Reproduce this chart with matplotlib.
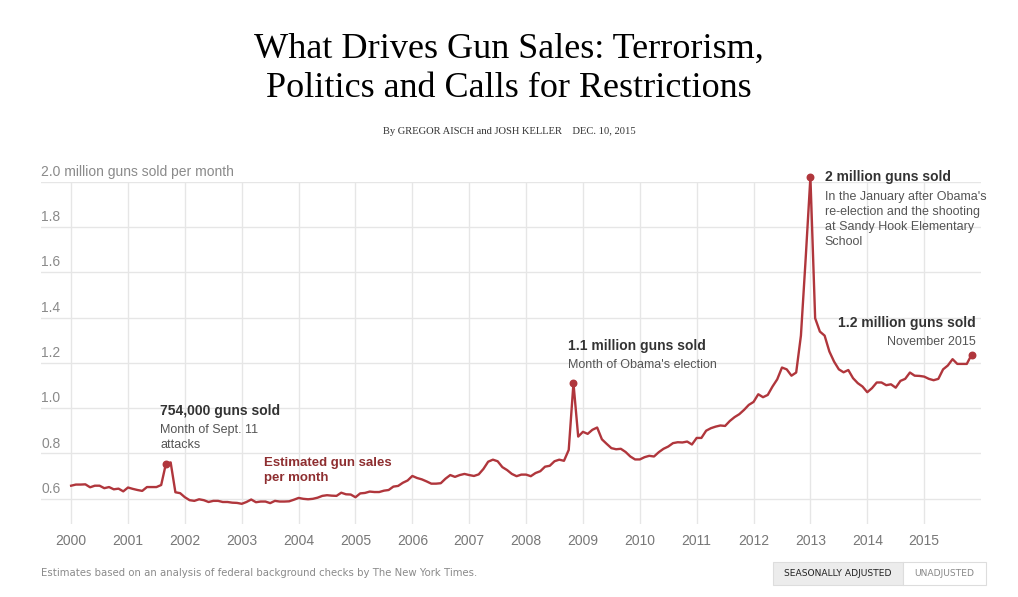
import matplotlib
matplotlib.use('Agg')
import matplotlib.pyplot as plt
from matplotlib.patches import Rectangle
import numpy as np

# monthly estimates, million guns sold (seasonally adjusted), Jan 2000 - Nov 2015
sales_2000 = [0.657, 0.662, 0.662, 0.663, 0.650, 0.657, 0.657, 0.646, 0.651, 0.641, 0.644, 0.632]
sales_2001 = [0.649, 0.643, 0.638, 0.634, 0.651, 0.651, 0.651, 0.660, 0.754, 0.760, 0.628, 0.624]
sales_2002 = [0.606, 0.593, 0.590, 0.597, 0.593, 0.585, 0.590, 0.590, 0.585, 0.585, 0.582, 0.581]
sales_2003 = [0.577, 0.585, 0.596, 0.584, 0.587, 0.587, 0.580, 0.590, 0.587, 0.587, 0.588, 0.595]
sales_2004 = [0.603, 0.599, 0.597, 0.599, 0.604, 0.612, 0.615, 0.613, 0.612, 0.626, 0.619, 0.618]
sales_2005 = [0.606, 0.623, 0.625, 0.631, 0.629, 0.629, 0.635, 0.638, 0.653, 0.656, 0.670, 0.680]
sales_2006 = [0.700, 0.691, 0.685, 0.676, 0.666, 0.666, 0.668, 0.688, 0.704, 0.696, 0.704, 0.709]
sales_2007 = [0.704, 0.700, 0.707, 0.731, 0.763, 0.772, 0.765, 0.739, 0.726, 0.709, 0.699, 0.706]
sales_2008 = [0.706, 0.699, 0.713, 0.721, 0.741, 0.745, 0.765, 0.772, 0.767, 0.815, 1.110, 0.874]
sales_2009 = [0.895, 0.886, 0.904, 0.914, 0.862, 0.842, 0.823, 0.818, 0.820, 0.806, 0.786, 0.773]
sales_2010 = [0.773, 0.783, 0.789, 0.786, 0.805, 0.820, 0.830, 0.845, 0.849, 0.848, 0.852, 0.839]
sales_2011 = [0.868, 0.868, 0.900, 0.911, 0.918, 0.923, 0.921, 0.943, 0.960, 0.973, 0.992, 1.014]
sales_2012 = [1.027, 1.061, 1.048, 1.058, 1.095, 1.127, 1.179, 1.171, 1.143, 1.157, 1.320, 1.660]
sales_2013 = [2.020, 1.397, 1.338, 1.320, 1.250, 1.205, 1.171, 1.158, 1.168, 1.132, 1.110, 1.095]
sales_2014 = [1.070, 1.088, 1.113, 1.113, 1.101, 1.105, 1.090, 1.120, 1.129, 1.157, 1.143, 1.142]
sales_2015 = [1.139, 1.129, 1.123, 1.129, 1.171, 1.188, 1.216, 1.195, 1.195, 1.195, 1.235]

sales = np.array(sales_2000 + sales_2001 + sales_2002 + sales_2003 + sales_2004 +
                 sales_2005 + sales_2006 + sales_2007 + sales_2008 + sales_2009 +
                 sales_2010 + sales_2011 + sales_2012 + sales_2013 + sales_2014 +
                 sales_2015)
months = 2000 + np.arange(len(sales)) / 12.0

years = list(range(2000, 2016))
yticks = [0.6, 0.8, 1.0, 1.2, 1.4, 1.6, 1.8, 2.0]
ytick_labels = ['0.6', '0.8', '1.0', '1.2', '1.4', '1.6', '1.8', '2.0 million guns sold per month']

# highlighted months: index into series
highlights = [20, 106, 156, 190]

linecolor = '#b0363c'
gridcolor = '#e6e6e6'
sans = ['Liberation Sans', 'DejaVu Sans']
serif = ['Liberation Serif', 'DejaVu Serif']
narrow = ['Liberation Sans Narrow', 'DejaVu Sans']

fig = plt.figure(figsize=(10.18, 5.97), dpi=100)
W, H = 1018.0, 597.0
ax = fig.add_axes([41 / W, 1 - 523.5 / H, 940 / W, (523.5 - 181.7) / H])
ax.set_xlim(1999.47, 2016.0)
ax.set_ylim(0.49, 2.0)

for s in ax.spines.values():
    s.set_visible(False)
ax.tick_params(left=False, bottom=False, labelleft=False, labelbottom=False)

for v in yticks:
    ax.axhline(v, color=gridcolor, lw=1, zorder=0)
for yr in years:
    ax.axvline(yr, color=gridcolor, lw=1, zorder=0)

# y labels sit just above their gridlines, left aligned
for v, lab in zip(yticks, ytick_labels):
    ax.annotate(lab, xy=(0, v), xycoords=('axes fraction', 'data'),
                xytext=(0, 2), textcoords='offset points', ha='left', va='bottom',
                fontsize=10, color='#8a8a8a', family=sans)
for yr in years:
    ax.annotate(str(yr), xy=(yr, 0), xycoords=('data', 'axes fraction'),
                xytext=(0, -7.5), textcoords='offset points', ha='center', va='top',
                fontsize=10, color='#777777', family=sans)

ax.plot(months, sales, color=linecolor, lw=1.7, clip_on=False, zorder=3,
        solid_joinstyle='round')
ax.scatter(months[highlights], sales[highlights], s=22, color=linecolor,
           zorder=4, clip_on=False)

dark = '#333333'
mid = '#555555'
# Sept. 11
ax.text(2001.57, 0.988, '754,000 guns sold', fontsize=10, fontweight='bold',
        color=dark, family=sans, va='center')
ax.text(2001.57, 0.869, 'Month of Sept. 11\nattacks', fontsize=9, color=mid,
        family=sans, va='center', linespacing=1.3)
# series label
ax.text(2003.4, 0.725, 'Estimated gun sales\nper month', fontsize=9.5,
        fontweight='bold', color='#8e2e30', family=sans, va='center',
        linespacing=1.3)
# 2008 election
ax.text(2008.74, 1.275, '1.1 million guns sold', fontsize=10, fontweight='bold',
        color=dark, family=sans, va='center')
ax.text(2008.74, 1.191, "Month of Obama's election", fontsize=9, color=mid,
        family=sans, va='center')
# Sandy Hook
ax.text(2013.25, 2.021, '2 million guns sold', fontsize=10, fontweight='bold',
        color=dark, family=sans, va='center')
ax.text(2013.25, 1.833, "In the January after Obama's\nre-election and the shooting\n"
        "at Sandy Hook Elementary\nSchool", fontsize=9, color=mid, family=sans,
        va='center', linespacing=1.35)
# Nov 2015
ax.text(2015.9, 1.377, '1.2 million guns sold', fontsize=10, fontweight='bold',
        color=dark, family=sans, va='center', ha='right')
ax.text(2015.9, 1.292, 'November 2015', fontsize=9, color=mid, family=sans,
        va='center', ha='right')

# title and byline
fig.text(0.5, 1 - 58 / H, 'What Drives Gun Sales: Terrorism,', ha='center',
         va='baseline', fontsize=26, family=serif, color='#000000')
fig.text(0.5, 1 - 97 / H, 'Politics and Calls for Restrictions', ha='center',
         va='baseline', fontsize=26, family=serif, color='#000000')
fig.text(0.5, 1 - 134 / H, 'By GREGOR AISCH and JOSH KELLER    DEC. 10, 2015',
         ha='center', va='baseline', fontsize=7.6, family=serif, color='#333333')

# footer note
fig.text(41 / W, 1 - 573 / H, 'Estimates based on an analysis of federal background '
         'checks by The New York Times.', ha='left', va='center', fontsize=7.3,
         color='#8a8a8a', family=narrow)

# toggle buttons
fig.patches.append(Rectangle((773 / W, 1 - 585 / H), 130 / W, 23 / H,
                             transform=fig.transFigure, facecolor='#ececec',
                             edgecolor='#dddddd', lw=0.8))
fig.patches.append(Rectangle((903 / W, 1 - 585 / H), 83 / W, 23 / H,
                             transform=fig.transFigure, facecolor='white',
                             edgecolor='#dddddd', lw=0.8))
fig.text(838 / W, 1 - 573.5 / H, 'SEASONALLY ADJUSTED', ha='center', va='center',
         fontsize=6.6, color='#222222', family=narrow)
fig.text(944.5 / W, 1 - 573.5 / H, 'UNADJUSTED', ha='center', va='center',
         fontsize=6.6, color='#888888', family=narrow)

plt.savefig('out.png', dpi=100)
